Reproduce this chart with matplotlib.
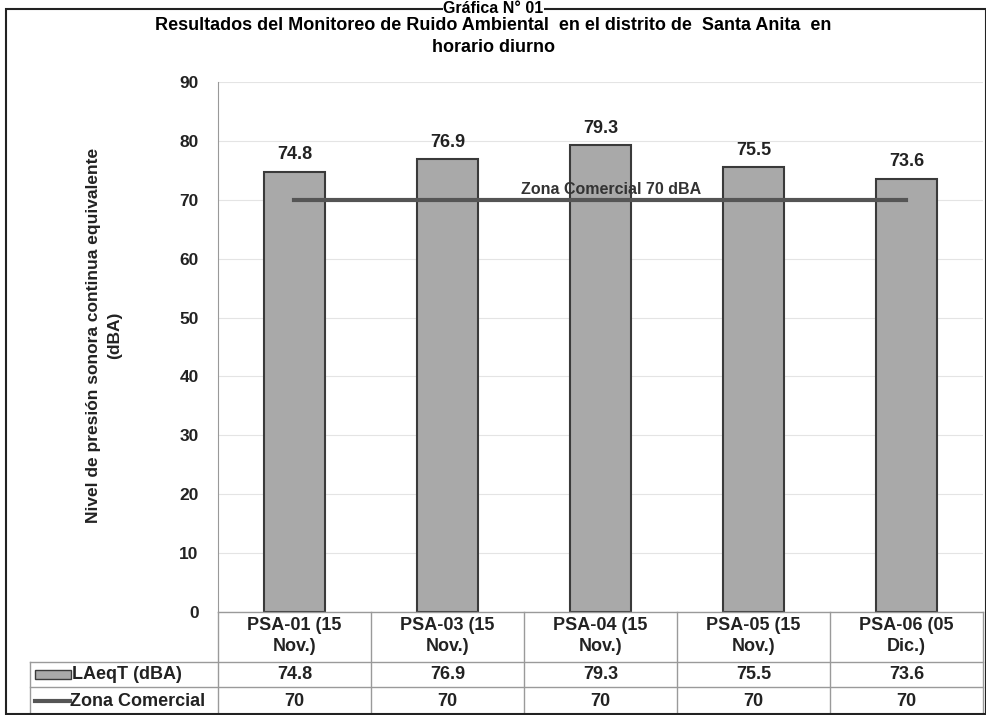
import matplotlib
matplotlib.use('Agg')
import matplotlib.pyplot as plt
from matplotlib.patches import Rectangle
from matplotlib.lines import Line2D

plt.rcParams['font.family'] = ['Liberation Sans', 'DejaVu Sans']

# data
categories = ['PSA-01 (15\nNov.)', 'PSA-03 (15\nNov.)', 'PSA-04 (15\nNov.)',
              'PSA-05 (15\nNov.)', 'PSA-06 (05\nDic.)']
laeq = [74.8, 76.9, 79.3, 75.5, 73.6]
zona = [70, 70, 70, 70, 70]
yticks = [0, 10, 20, 30, 40, 50, 60, 70, 80, 90]

W, H = 987, 715
fig = plt.figure(figsize=(W / 100, H / 100), dpi=100)

def fx(px):
    return px / W

def fy(py):
    return 1 - py / H

# outer frame
fig.patches.append(Rectangle((fx(6), fy(714)), fx(980), fy(9) - fy(714), transform=fig.transFigure,
                             fill=False, edgecolor='#222222', lw=1.5))
fig.text(0.5, fy(1), 'Gráfica N° 01', ha='center', va='top', fontsize=11.5, fontweight='bold',
         bbox=dict(facecolor='white', edgecolor='none', pad=0.5))

title_font = ['Liberation Sans Narrow', 'Liberation Sans']
fig.text(0.5, fy(26), 'Resultados del Monitoreo de Ruido Ambiental  en el distrito de  Santa Anita  en',
         ha='center', va='center', fontsize=13, fontweight='bold', family=title_font)
fig.text(0.5, fy(48), 'horario diurno', ha='center', va='center', fontsize=13, fontweight='bold',
         family=title_font)

ax = fig.add_axes([fx(218), fy(612), fx(983 - 218), fy(82) - fy(612)])
x = list(range(len(categories)))
ax.bar(x, laeq, width=0.4, color='#a9a9a9', edgecolor='#3a3a3a', linewidth=1.5, zorder=2)
ax.plot(x, zona, color='#555555', lw=3, zorder=3)
for xi, v in zip(x, laeq):
    ax.text(xi, v + 1.4, f'{v:.1f}', ha='center', va='bottom', fontsize=13, fontweight='bold',
            color='#222222')
ax.text(2.07, 71.8, 'Zona Comercial 70 dBA', ha='center', va='center', fontsize=11.5,
        fontweight='bold', color='#333333', zorder=4)

ax.set_xlim(-0.5, len(categories) - 0.5)
ax.set_ylim(0, 90)
ax.set_yticks(yticks)
ax.set_yticklabels([str(t) for t in yticks], fontsize=12.5, fontweight='bold', color='#222222')
ax.tick_params(axis='y', length=0, pad=14)
ax.set_xticks([])
ax.grid(axis='y', color='#e4e4e4', lw=0.8, zorder=0)
for s in ['top', 'right', 'bottom']:
    ax.spines[s].set_visible(False)
ax.spines['left'].set_color('#999999')
ax.set_axisbelow(True)

fig.text(fx(104), fy(335), 'Nivel de presión sonora continua equivalente\n(dBA)', rotation=90,
         ha='center', va='center', fontsize=12.5, fontweight='bold', linespacing=1.45,
         color='#222222')

# data table under the axis
tab = fig.add_axes([0, 0, 1, 1], facecolor='none')
tab.set_xlim(0, W)
tab.set_ylim(H, 0)
tab.axis('off')
col_edges = [218 + i * 153 for i in range(len(categories) + 1)]
row_edges = [612, 662, 687, 715]
lc = '#9a9a9a'
tab.plot([218, 983], [612, 612], color=lc, lw=1)
for yy in row_edges[1:]:
    tab.plot([30, 983], [yy, yy], color=lc, lw=1)
for xx in col_edges:
    tab.plot([xx, xx], [612, 715], color=lc, lw=1)
tab.plot([30, 30], [662, 715], color=lc, lw=1)

fs = 13
for i, c in enumerate(categories):
    cx = (col_edges[i] + col_edges[i + 1]) / 2
    tab.text(cx, 636, c, ha='center', va='center', fontsize=fs, fontweight='bold', linespacing=1.25,
             color='#222222')
    tab.text(cx, 674.5, f'{laeq[i]:.1f}', ha='center', va='center', fontsize=fs, fontweight='bold',
             color='#222222')
    tab.text(cx, 701, f'{zona[i]}', ha='center', va='center', fontsize=fs, fontweight='bold',
             color='#222222')

tab.add_patch(Rectangle((35, 670), 36, 9, facecolor='#a9a9a9', edgecolor='#3a3a3a', lw=1))
tab.text(72, 674.5, 'LAeqT (dBA)', ha='left', va='center', fontsize=fs, fontweight='bold',
         color='#222222')
tab.add_line(Line2D([35, 70], [701, 701], color='#555555', lw=3))
tab.text(70, 701, 'Zona Comercial', ha='left', va='center', fontsize=fs, fontweight='bold',
         color='#222222')

fig.savefig('out.png', dpi=100)
